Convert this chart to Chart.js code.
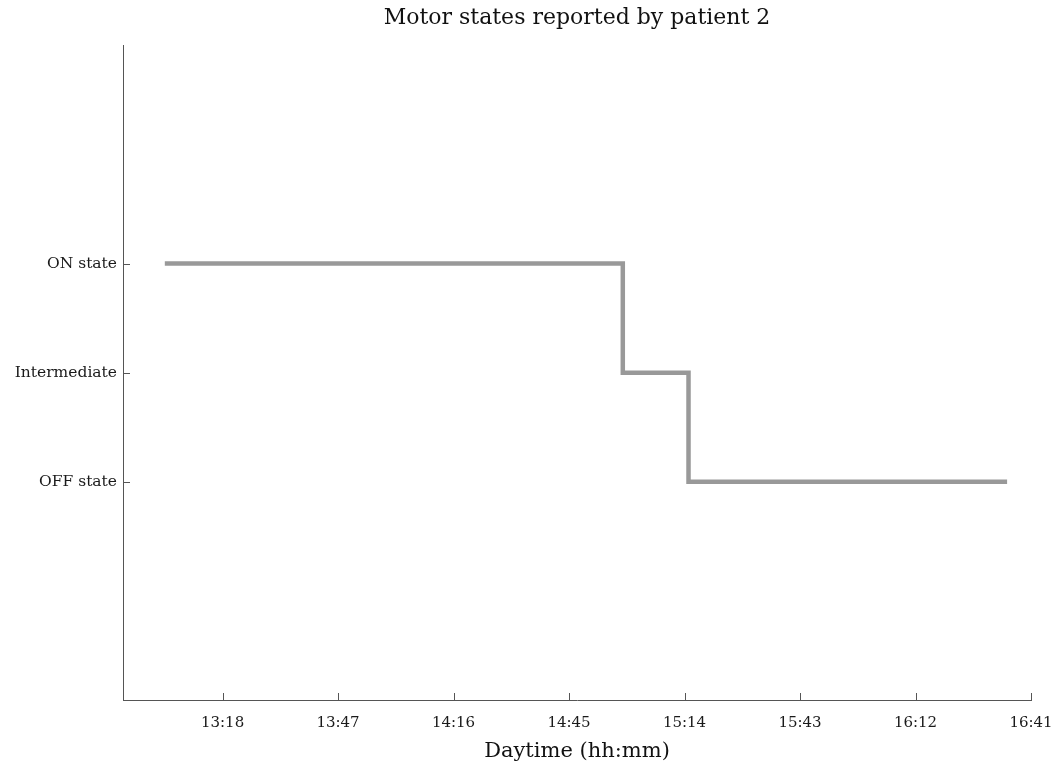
<!DOCTYPE html>
<html>
<head>
<script src="https://cdn.jsdelivr.net/npm/chart.js"></script>
<style>
  html, body { margin: 0; padding: 0; background: #fff; }
  #wrap { width: 1058px; height: 764px; }
</style>
</head>
<body>
<div id="wrap"><canvas id="chart"></canvas></div>
<script>
// report times in minutes after midnight, and state codes (0 = OFF, 1 = Intermediate, 2 = ON)
const reportMinutes = [783.5, 898.5, 915, 995];
const reportStates = [2, 1, 0, 0];
const xTickMinutes = [798, 827, 856, 885, 914, 943, 972, 1001];
const stateLabels = ['OFF state', 'Intermediate', 'ON state'];

const fmt = m => {
  const h = Math.floor(m / 60), mm = Math.round(m % 60);
  return h + ':' + String(mm).padStart(2, '0');
};

const serif = '"DejaVu Serif", "Liberation Serif", serif';

// ticks pointing into the plot, like the original
const innerTicks = {
  id: 'innerTicks',
  afterLayout(chart) {
    // centre the title over the plot area rather than the whole canvas
    if (chart.titleBlock) {
      chart.titleBlock.left = chart.chartArea.left;
      chart.titleBlock.right = chart.chartArea.right;
    }
  },
  afterDraw(chart) {
    const { ctx, chartArea, scales } = chart;
    ctx.save();
    ctx.strokeStyle = '#555';
    ctx.lineWidth = 1;
    ctx.beginPath();
    scales.x.ticks.forEach((t, i) => {
      const x = Math.round(scales.x.getPixelForTick(i)) + 0.5;
      ctx.moveTo(x, chartArea.bottom);
      ctx.lineTo(x, chartArea.bottom - 7);
    });
    scales.y.ticks.forEach((t, i) => {
      const y = Math.round(scales.y.getPixelForTick(i)) + 0.5;
      ctx.moveTo(chartArea.left, y);
      ctx.lineTo(chartArea.left + 7, y);
    });
    ctx.stroke();
    ctx.restore();
  }
};

new Chart(document.getElementById('chart'), {
  type: 'line',
  data: {
    datasets: [{
      data: reportMinutes.map((m, i) => ({ x: m, y: reportStates[i] })),
      stepped: true,
      borderColor: '#999999',
      borderWidth: 4.5,
      pointRadius: 0,
      fill: false
    }]
  },
  options: {
    responsive: true,
    maintainAspectRatio: false,
    animation: false,
    layout: { padding: { left: 0, right: 27, top: 0, bottom: 0 } },
    plugins: {
      legend: { display: false },
      tooltip: { enabled: false },
      title: {
        display: true,
        text: 'Motor states reported by patient 2',
        color: '#111',
        font: { family: serif, size: 22, weight: 'normal' },
        padding: { top: 5, bottom: 14 }
      }
    },
    scales: {
      x: {
        type: 'linear',
        min: 773,
        max: 1001,
        afterBuildTicks: s => { s.ticks = xTickMinutes.map(v => ({ value: v })); },
        afterFit: s => { s.height = 64; s.paddingLeft = 0; s.paddingRight = 0; },
        grid: { display: false, drawTicks: false },
        border: { display: true, color: '#555', width: 1 },
        ticks: {
          callback: v => fmt(v),
          color: '#1a1a1a',
          padding: 14,
          maxRotation: 0,
          font: { family: serif, size: 15 }
        },
        title: {
          display: true,
          text: 'Daytime (hh:mm)',
          color: '#111',
          font: { family: serif, size: 21 },
          padding: { top: 2, bottom: 0 }
        }
      },
      y: {
        min: -2,
        max: 4,
        afterBuildTicks: s => { s.ticks = stateLabels.map((l, i) => ({ value: i })); },
        afterFit: s => { s.width = 123; },
        grid: { display: false, drawTicks: false },
        border: { display: true, color: '#555', width: 1 },
        ticks: {
          callback: v => stateLabels[v],
          color: '#1a1a1a',
          padding: 6,
          font: { family: serif, size: 15.5 }
        }
      }
    }
  },
  plugins: [innerTicks]
});
</script>
</body>
</html>
